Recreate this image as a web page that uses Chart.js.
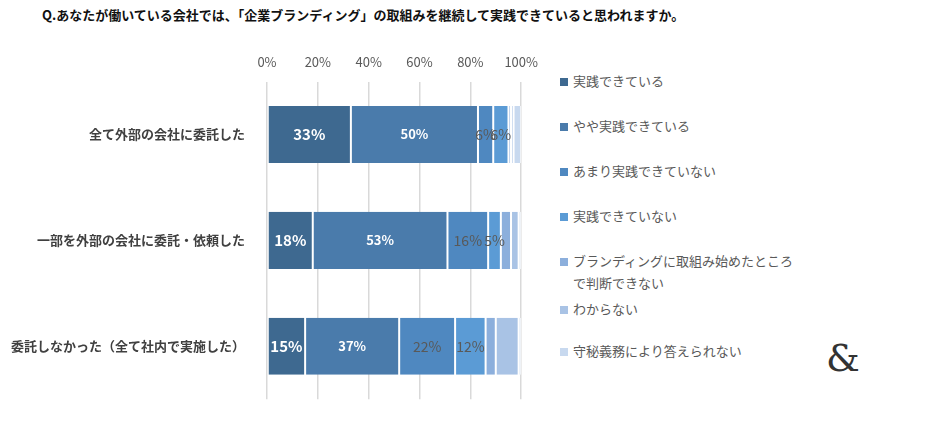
<!DOCTYPE html>
<html><head><meta charset="utf-8">
<script src="https://cdn.jsdelivr.net/npm/chart.js@4"></script>
<style>
body{margin:0;width:940px;height:421px;background:#fff;font-family:"Noto Sans CJK JP",sans-serif;position:relative;overflow:hidden}
#title{position:absolute;left:42px;top:5px;font-size:13px;font-weight:bold;color:#111}
#wrap{position:absolute;left:0;top:0;width:550px;height:421px}
#legend{position:absolute;left:560px;top:70px;font-size:13px;color:#595959;line-height:22px}
#legend div{position:absolute;left:0;white-space:nowrap;padding-left:13px}
#legend span.b{position:absolute;left:0;top:8px;width:8px;height:8px}
#amp{position:absolute;left:826px;top:336px;font-size:38px;color:#333;font-family:"DejaVu Serif",serif}
</style></head><body>
<div id="title">Q.あなたが働いている会社では、「企業ブランディング」の取組みを継続して実践できていると思われますか。</div>
<div id="wrap"><canvas id="c" width="550" height="421"></canvas></div>
<div id="legend"></div>
<div id="amp">&amp;</div>
<script>
const categories=["全て外部の会社に委託した","一部を外部の会社に委託・依頼した","委託しなかった（全て社内で実施した）"];
const seriesNames=["実践できている","やや実践できている","あまり実践できていない","実践できていない","ブランディングに取組み始めたところ\nで判断できない","わからない","守秘義務により答えられない"];
const s1=[33,18,15];
const s2=[50,53,37];
const s3=[6,16,22];
const s4=[6,5,12];
const s5=[1,4,4];
const s6=[1,3,9];
const s7=[3,1,1];
const tickLabels=["0%","20%","40%","60%","80%","100%"];
const colors=["#3e6990","#4a7bab","#4f88c0","#5b9bd5","#8cafdc","#a9c3e5","#c8d9ef"];
const data=[s1,s2,s3,s4,s5,s6,s7];
const legTops=[0,45,90,135,180,228,270];
const leg=document.getElementById('legend');
seriesNames.forEach((n,i)=>{const d=document.createElement('div');d.style.top=legTops[i]+'px';
d.innerHTML='<span class="b" style="background:'+colors[i]+'"></span>'+n.replace('\n','<br>');leg.appendChild(d);});
const labelPlugin={id:'lbl',afterDatasetsDraw(ch){const ctx=ch.ctx;ch.data.datasets.forEach((ds,di)=>{
 if(di>3)return;
 ch.getDatasetMeta(di).data.forEach((bar,i)=>{const v=ds.data[i];if(v<5)return;
 const x=(bar.x+bar.base)/2;ctx.save();ctx.textAlign='center';ctx.textBaseline='middle';
 if(di<2){ctx.fillStyle='#fff';ctx.font=(di===0?'bold 15px':'bold 13px')+' "Noto Sans CJK JP"';}
 else{ctx.fillStyle='#595959';ctx.font='14px "Noto Sans CJK JP"';}
 ctx.fillText(v+'%',x,bar.y);ctx.restore();});});}};
new Chart(document.getElementById('c'),{type:'bar',
data:{labels:categories,datasets:data.map((d,i)=>({label:seriesNames[i],data:d,backgroundColor:colors[i],borderColor:'#fff',borderWidth:{left:1,right:1},borderSkipped:false,barPercentage:0.54,categoryPercentage:1}))},
options:{indexAxis:'y',responsive:false,animation:false,devicePixelRatio:1,
layout:{padding:{top:42,bottom:10,right:0}},
plugins:{legend:{display:false},tooltip:{enabled:false}},
scales:{x:{position:'top',stacked:true,min:0,max:100,
 ticks:{stepSize:20,padding:12,maxRotation:0,color:'#595959',font:{size:13,family:'Noto Sans CJK JP'},callback:(v,i)=>tickLabels[i]},
 grid:{color:'#d9d9d9',lineWidth:1.5,drawTicks:false},border:{display:false}},
 y:{stacked:true,ticks:{padding:14,color:'#404040',font:{size:13,weight:'bold',family:'Noto Sans CJK JP'}},
 grid:{display:false},border:{display:false},afterFit(a){a.width=267;}}}},
plugins:[labelPlugin]});
</script></body></html>
